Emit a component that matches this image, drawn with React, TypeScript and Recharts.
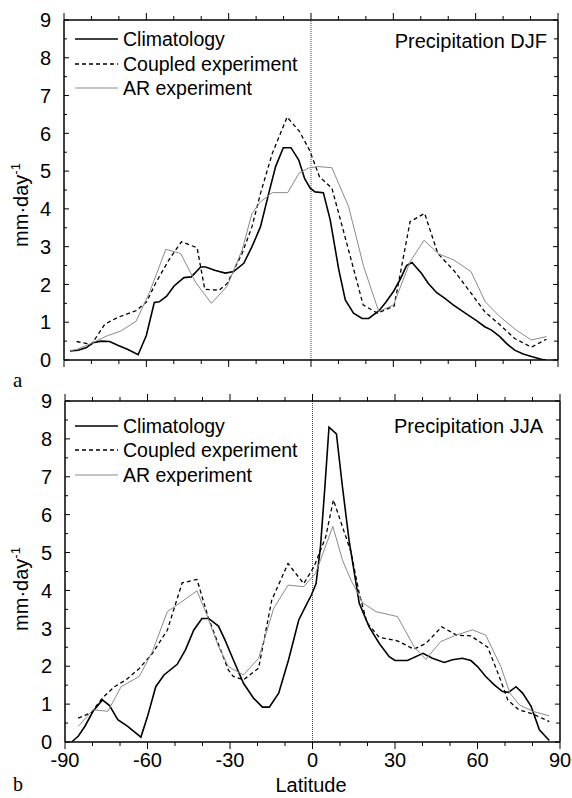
import { Line, LineChart, ReferenceLine, XAxis, YAxis } from "recharts";

const FONT = '"Liberation Sans", Arial, Helvetica, sans-serif';
const SERIF = '"Liberation Serif", "Times New Roman", serif';

const latTicks = [-90, -80, -70, -60, -50, -40, -30, -20, -10, 0, 10, 20, 30, 40, 50, 60, 70, 80, 90];
const mmTicks = [0, 0.5, 1, 1.5, 2, 2.5, 3, 3.5, 4, 4.5, 5, 5.5, 6, 6.5, 7, 7.5, 8, 8.5, 9];

// DJF zonal means
const djfClimLat = [
  -87.8, -84.8, -81.8, -79.4, -76.4, -73.4, -70.4, -66.7, -63.0, -60.0, -57.1, -55.3, -52.6, -49.9, -46.3, -43.6,
  -40.2, -38.4, -34.8, -31.2, -28.2, -24.5, -21.5, -18.4, -15.4, -12.9, -10.1, -7.3, -4.5, -2.3, -0.3, 1.5, 4.5,
  7.0, 10.1, 12.5, 15.5, 18.6, 21.0, 24.7, 27.2, 30.1, 32.6, 34.8, 36.8, 40.3, 42.7, 45.8, 48.8, 51.8, 54.2, 57.3,
  60.3, 63.3, 65.8, 68.8, 71.2, 74.2, 77.3, 80.3, 83.9, 85.5,
];
const djfClimMm = [
  0.24, 0.26, 0.33, 0.46, 0.5, 0.49, 0.39, 0.28, 0.14, 0.65, 1.52, 1.54, 1.69, 1.96, 2.18, 2.2, 2.46, 2.46, 2.37,
  2.3, 2.34, 2.56, 3.0, 3.53, 4.41, 5.12, 5.62, 5.62, 5.3, 4.8, 4.55, 4.45, 4.43, 3.71, 2.4, 1.59, 1.24, 1.1, 1.1,
  1.3, 1.52, 1.82, 2.15, 2.5, 2.58, 2.29, 2.03, 1.78, 1.63, 1.46, 1.34, 1.19, 1.04, 0.88, 0.79, 0.62, 0.44, 0.26,
  0.16, 0.09, 0.02, 0,
];
const djfCoupledLat = [
  -85.4, -80.0, -75.1, -70.3, -63.6, -59.9, -56.5, -51.7, -47.2, -41.5, -38.7, -33.5, -30.6, -25.1, -21.5, -18.4,
  -14.1, -8.7, -4.2, -0.5, 3.1, 7.6, 11.4, 15.3, 19.0, 24.2, 30.3, 36.1, 41.4, 46.2, 52.4, 57.9, 63.3, 68.2, 74.2,
  80.3, 85.8,
];
const djfCoupledMm = [
  0.49, 0.41, 0.95, 1.13, 1.31, 1.54, 2.05, 2.66, 3.13, 2.97, 1.87, 1.85, 2.02, 2.82, 3.53, 4.41, 5.47, 6.43, 6.05,
  5.55, 4.85, 4.55, 3.53, 2.47, 1.46, 1.24, 1.43, 3.66, 3.88, 2.82, 2.34, 1.81, 1.28, 0.97, 0.57, 0.34, 0.55,
];
const djfArLat = [
  -87.5, -85.4, -79.4, -74.6, -69.2, -63.7, -58.9, -52.9, -47.5, -42.0, -36.3, -30.6, -25.1, -21.5, -18.4, -14.1,
  -8.5, -4.4, -1.0, 2.5, 7.6, 13.7, 19.2, 24.7, 30.1, 36.1, 41.2, 46.5, 52.0, 58.3, 63.5, 68.8, 74.8, 80.3, 85.8,
];
const djfArMm = [
  0.25, 0.28, 0.46, 0.63, 0.77, 1.03, 1.78, 2.93, 2.82, 2.05, 1.5, 1.95, 2.91, 3.88, 4.19, 4.43, 4.43, 4.94, 5.08,
  5.12, 5.09, 4.06, 2.47, 1.28, 1.46, 2.6, 3.17, 2.81, 2.65, 2.34, 1.54, 1.15, 0.79, 0.53, 0.62,
];

// JJA zonal means
const jjaClimLat = [
  -87.6, -85.2, -82.8, -79.8, -76.4, -73.8, -70.8, -67.2, -62.4, -60.0, -57.0, -54.0, -49.2, -46.2, -43.2, -40.2,
  -37.8, -34.2, -31.8, -28.8, -25.1, -21.5, -18.2, -15.7, -12.3, -8.7, -5.0, -2.3, -0.4, 1.3, 2.9, 4.5, 6.0, 8.7,
  10.9, 13.3, 17.0, 20.6, 24.3, 27.9, 30.0, 34.5, 40.2, 43.6, 47.9, 50.9, 54.5, 57.6, 60.0, 63.0, 66.1, 69.1, 71.3,
  74.0, 76.4, 79.5, 82.5, 86.1,
];
const jjaClimMm = [
  0, 0.15, 0.41, 0.81, 1.11, 0.96, 0.59, 0.41, 0.13, 0.67, 1.46, 1.77, 2.05, 2.43, 2.95, 3.26, 3.26, 3.06, 2.69,
  2.17, 1.55, 1.16, 0.92, 0.92, 1.29, 2.17, 3.22, 3.61, 3.88, 4.18, 5.15, 6.73, 8.31, 8.13, 6.73, 5.32, 3.66, 3.04,
  2.6, 2.25, 2.15, 2.15, 2.34, 2.21, 2.1, 2.17, 2.21, 2.15, 1.99, 1.73, 1.51, 1.33, 1.31, 1.46, 1.29, 0.94, 0.32,
  0.04,
];
const jjaCoupledLat = [
  -85.2, -80.4, -76.4, -72.0, -67.8, -63.0, -58.2, -52.8, -47.4, -42.0, -37.8, -33.6, -30.6, -28.8, -25.1, -19.6,
  -14.8, -8.9, -3.2, 0.5, 4.8, 7.6, 10.9, 14.0, 17.0, 19.8, 24.3, 30.9, 36.9, 41.2, 47.0, 52.4, 57.6, 63.7, 67.9,
  71.0, 75.0, 80.1, 86.1,
];
const jjaCoupledMm = [
  0.63, 0.78, 1.16, 1.46, 1.64, 1.94, 2.34, 2.95, 4.2, 4.29, 3.26, 2.47, 1.9, 1.73, 1.64, 1.95, 3.75, 4.71, 4.18,
  4.62, 5.41, 6.39, 5.68, 5.01, 3.92, 3.15, 2.76, 2.67, 2.45, 2.6, 3.04, 2.82, 2.8, 2.5, 1.73, 1.11, 0.85, 0.74,
  0.54,
];
const jjaArLat = [
  -85.2, -79.8, -74.4, -69.6, -63.0, -58.2, -52.8, -48.0, -42.0, -38.4, -34.2, -30.6, -25.1, -19.6, -14.1, -8.9,
  -3.2, 1.1, 7.4, 10.9, 14.0, 18.3, 23.1, 30.9, 36.9, 41.2, 46.6, 52.1, 58.2, 63.0, 68.5, 71.8, 75.2, 80.1, 86.1,
];
const jjaArMm = [
  0.41, 0.85, 0.81, 1.46, 1.73, 2.39, 3.44, 3.68, 3.99, 3.35, 2.52, 1.99, 1.77, 2.21, 3.53, 4.14, 4.1, 4.45, 5.69,
  4.8, 4.27, 3.67, 3.44, 3.31, 2.52, 2.18, 2.65, 2.82, 2.96, 2.82, 1.99, 1.29, 0.98, 0.81, 0.69,
];

type Row = { lat: number; mm: number };

type Series = {
  dash?: string;
  id: string;
  label: string;
  rows: Row[];
  stroke: string;
  width: number;
};

const toRows = (lat: number[], mm: number[]): Row[] => lat.map((value, index) => ({ lat: value, mm: mm[index] }));

const makeSeries = (clim: Row[], coupled: Row[], ar: Row[]): Series[] => [
  { id: "clim", label: "Climatology", rows: clim, stroke: "#000", width: 1.6 },
  { id: "coupled", label: "Coupled experiment", rows: coupled, stroke: "#000", width: 1.3, dash: "4 3" },
  { id: "ar", label: "AR experiment", rows: ar, stroke: "#8a8a8a", width: 1 },
];

const djfSeries = makeSeries(
  toRows(djfClimLat, djfClimMm),
  toRows(djfCoupledLat, djfCoupledMm),
  toRows(djfArLat, djfArMm),
);
const jjaSeries = makeSeries(
  toRows(jjaClimLat, jjaClimMm),
  toRows(jjaCoupledLat, jjaCoupledMm),
  toRows(jjaArLat, jjaArMm),
);

type TickProps = { x?: number; y?: number; payload?: { value: number } };

function LeftTick({ x = 0, y = 0, payload }: TickProps) {
  const value = payload?.value ?? 0;
  const major = Number.isInteger(value);
  return (
    <g>
      <line x1={x} x2={x + (major ? 5 : 3)} y1={y} y2={y} stroke="#000" strokeWidth={1} />
      {major && (
        <text x={x - 13} y={y} dy="0.36em" textAnchor="end" fontFamily={FONT} fontSize={20} fill="#000">
          {value}
        </text>
      )}
    </g>
  );
}

function RightTick({ x = 0, y = 0, payload }: TickProps) {
  const major = Number.isInteger(payload?.value ?? 0);
  return <line x1={x} x2={x - (major ? 5 : 4)} y1={y} y2={y} stroke="#000" strokeWidth={1} />;
}

function TopTick({ x = 0, y = 0, payload }: TickProps) {
  const major = (payload?.value ?? 0) % 30 === 0;
  return <line x1={x} x2={x} y1={y} y2={y - (major ? 7 : 4)} stroke="#000" strokeWidth={1} />;
}

function bottomTick(showLabels: boolean) {
  return function BottomTick({ x = 0, y = 0, payload }: TickProps) {
    const value = payload?.value ?? 0;
    const major = value % 30 === 0;
    return (
      <g>
        <line x1={x} x2={x} y1={y} y2={y + (major ? 7 : 4)} stroke="#000" strokeWidth={1} />
        {showLabels && major && (
          <text x={x} y={y + 25} textAnchor="middle" fontFamily={FONT} fontSize={20} fill="#000">
            {value}
          </text>
        )}
      </g>
    );
  };
}

type PanelProps = {
  height: number;
  legendRows: number[];
  margin: { top: number; right: number; bottom: number; left: number };
  series: Series[];
  showXLabels: boolean;
  title: string;
  titleX: number;
  titleY: number;
  top: number;
  xLabelY?: number;
  yLabelY: number;
};

function PrecipPanel({
  height,
  legendRows,
  margin,
  series,
  showXLabels,
  title,
  titleX,
  titleY,
  top,
  xLabelY,
  yLabelY,
}: PanelProps) {
  const axisLine = { stroke: "#000", strokeWidth: 1.5 };
  return (
    <div style={{ position: "absolute", left: 0, top, width: 572, height }}>
      <LineChart width={572} height={height} margin={margin} data={series.flatMap((item) => item.rows)}>
        <XAxis
          xAxisId="b"
          dataKey="lat"
          type="number"
          domain={[-90, 90]}
          ticks={latTicks}
          interval={0}
          height={1}
          tickSize={0}
          tickMargin={0}
          tickLine={false}
          axisLine={axisLine}
          tick={bottomTick(showXLabels)}
          allowDataOverflow
        />
        <XAxis
          xAxisId="t"
          orientation="top"
          dataKey="lat"
          type="number"
          domain={[-90, 90]}
          ticks={latTicks}
          interval={0}
          height={1}
          tickSize={0}
          tickMargin={0}
          tickLine={false}
          axisLine={axisLine}
          tick={TopTick}
          allowDataOverflow
        />
        <YAxis
          yAxisId="l"
          type="number"
          domain={[0, 9]}
          ticks={mmTicks}
          interval={0}
          width={64}
          tickSize={0}
          tickMargin={0}
          tickLine={false}
          axisLine={axisLine}
          tick={LeftTick}
          allowDataOverflow
        />
        <YAxis
          yAxisId="r"
          orientation="right"
          type="number"
          domain={[0, 9]}
          ticks={mmTicks}
          interval={0}
          width={1}
          tickSize={0}
          tickMargin={0}
          tickLine={false}
          axisLine={axisLine}
          tick={RightTick}
          allowDataOverflow
        />
        <ReferenceLine x={0} xAxisId="b" yAxisId="l" stroke="#444" strokeWidth={1} strokeDasharray="1 1" />
        {series.map((item) => (
          <Line
            key={item.id}
            data={item.rows}
            dataKey="mm"
            xAxisId="b"
            yAxisId="l"
            type="linear"
            dot={false}
            activeDot={false}
            stroke={item.stroke}
            strokeWidth={item.width}
            strokeDasharray={item.dash}
            isAnimationActive={false}
          />
        ))}
      </LineChart>
      <svg
        width={572}
        height={height}
        style={{ position: "absolute", left: 0, top: 0, pointerEvents: "none" }}
      >
        {series.map((item, index) => (
          <g key={item.id}>
            <line
              x1={75}
              x2={118}
              y1={legendRows[index]}
              y2={legendRows[index]}
              stroke={item.stroke}
              strokeWidth={item.width}
              strokeDasharray={item.dash}
            />
            <text x={123} y={legendRows[index] + 7} fontFamily={FONT} fontSize={19.5} fill="#000">
              {item.label}
            </text>
          </g>
        ))}
        <text x={titleX} y={titleY + 7} textAnchor="end" fontFamily={FONT} fontSize={20} fill="#000">
          {title}
        </text>
        <text
          transform={`translate(28,${yLabelY}) rotate(-90)`}
          textAnchor="middle"
          fontFamily={FONT}
          fontSize={20}
          fill="#000"
        >
          mm·day
          <tspan dy={-8} fontSize={13}>
            -1
          </tspan>
        </text>
        {xLabelY !== undefined && (
          <text x={311} y={xLabelY} textAnchor="middle" fontFamily={FONT} fontSize={20} fill="#000">
            Latitude
          </text>
        )}
      </svg>
    </div>
  );
}

export default function App() {
  return (
    <div style={{ position: "absolute", left: 0, top: 0, width: 572, height: 798, background: "#fff" }}>
      <PrecipPanel
        top={0}
        height={380}
        margin={{ top: 19, right: 13, bottom: 19, left: 0 }}
        series={djfSeries}
        showXLabels={false}
        legendRows={[39, 64, 88]}
        title="Precipitation DJF"
        titleX={547}
        titleY={41}
        yLabelY={205}
      />
      <PrecipPanel
        top={380}
        height={418}
        margin={{ top: 20, right: 11, bottom: 55, left: 1 }}
        series={jjaSeries}
        showXLabels
        legendRows={[46, 70, 95]}
        title="Precipitation JJA"
        titleX={543}
        titleY={46}
        xLabelY={412}
        yLabelY={209}
      />
      {/* panel letters sit between and below the panels */}
      <svg width={572} height={798} style={{ position: "absolute", left: 0, top: 0, pointerEvents: "none" }}>
        <text x={13} y={387} fontFamily={SERIF} fontSize={21} fill="#000">
          a
        </text>
        <text x={13} y={791} fontFamily={SERIF} fontSize={20} fill="#000">
          b
        </text>
      </svg>
    </div>
  );
}
